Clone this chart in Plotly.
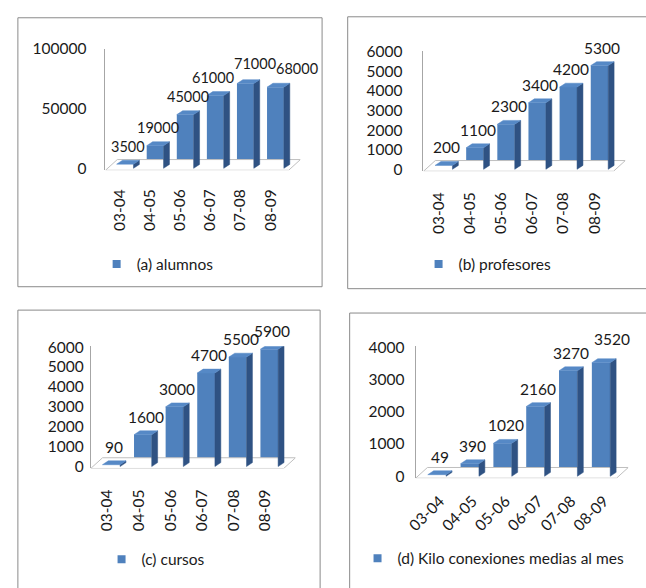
import plotly.graph_objects as go

# ---------------- data ----------------
categories = ["03-04", "04-05", "05-06", "06-07", "07-08", "08-09"]
alumnos = [3500, 19000, 45000, 61000, 71000, 68000]
profesores = [200, 1100, 2300, 3400, 4200, 5300]
cursos = [90, 1600, 3000, 4700, 5500, 5900]
conexiones = [49, 390, 1020, 2160, 3270, 3520]

series_names = ["(a) alumnos", "(b) profesores", "(c) cursos",
                "(d) Kilo conexiones medias al mes"]
yticks_a = [0, 50000, 100000]
yticks_b = [0, 1000, 2000, 3000, 4000, 5000, 6000]
yticks_c = [0, 1000, 2000, 3000, 4000, 5000, 6000]
yticks_d = [0, 1000, 2000, 3000, 4000]

# ---------------- style / layout (pixels) ----------------
W, H = 646, 588
FONT = "Lato"
FS = 15.5
FRONT = "#4F81BD"
SIDE = "#2F5283"
TOP = "#5689C6"
AXISGRAY = "#A6A6A6"
BORDER = "#8A8A8A"
TXT = "#1a1a1a"

XMIN, XMAX = -0.65, 5.83
BARW = 0.56
DEPTH_X, DEPTH_Y = 6, 4        # px
FLOOR_DX, FLOOR_BACK = 12, 9   # px

panels = [
    dict(vals=alumnos, ticks=yticks_a, xl=97, xr=295, p0=163.5, vref=100000, pref=41,
         ltop=41, border=(8, 9, 317, 285), angle=-90, xshift_px=-5, xstand=15,
         ystand=15, leg_text_x=128, leg_y=262, lab_fs=14.5,
         lab_shift={3: (-5, 0), 4: (7, 2), 5: (19, 1)}),
    dict(vals=profesores, ticks=yticks_b, xl=420, xr=625, p0=164.5, vref=6000, pref=44,
         ltop=43, border=(343, 8, 660, 287), angle=-90, xshift_px=-5, xstand=17,
         ystand=17, leg_text_x=455, leg_y=262, lab_fs=FS, lab_shift={}),
    dict(vals=cursos, ticks=yticks_c, xl=82, xr=290, p0=469.5, vref=6000, pref=347,
         ltop=346, border=(8, 309, 315, 600), angle=-90, xshift_px=-4, xstand=17,
         ystand=3, leg_text_x=133, leg_y=565, lab_fs=FS, lab_shift={}),
    dict(vals=conexiones, ticks=yticks_d, xl=412, xr=628, p0=479.5, vref=4000, pref=347,
         ltop=346, border=(345, 312, 660, 600), angle=-45, xshift_px=3, xstand=10,
         ystand=7, leg_text_x=393, leg_y=564, lab_fs=FS, lab_shift={5: (8, 6)}),
]

fig = go.Figure()
layout = dict(width=W, height=H, margin=dict(l=0, r=0, t=0, b=0),
              paper_bgcolor="white", plot_bgcolor="rgba(0,0,0,0)",
              font=dict(family=FONT, size=FS, color=TXT),
              showlegend=True, shapes=[], annotations=[])

for k, p in enumerate(panels):
    n = "" if k == 0 else str(k + 1)
    xa, ya = "x" + n, "y" + n
    legname = "legend" + n
    vals = p["vals"]
    idx = list(range(len(categories)))

    sx = (p["xr"] - p["xl"]) / (XMAX - XMIN)          # px per x unit
    sy = (p["p0"] - p["pref"]) / p["vref"]            # px per value unit
    ybot_px = p["p0"] + 2
    ymin = -(ybot_px - p["p0"]) / sy
    ymax = max((p["p0"] - p["ltop"]) / sy, p["vref"] * 1.002)
    ltop_px = p["p0"] - ymax * sy
    ddx = DEPTH_X / sx
    ddy = DEPTH_Y / sy

    # floor
    fdx = FLOOR_DX / sx
    fback = FLOOR_BACK / sy
    fig.add_trace(go.Scatter(
        x=[XMIN, XMAX - fdx, XMAX, XMIN + fdx, XMIN],
        y=[ymin, ymin, fback, fback, ymin],
        mode="lines", fill="toself", fillcolor="white",
        line=dict(color="#BFBFBF", width=1), xaxis=xa, yaxis=ya,
        showlegend=False, hoverinfo="skip"))

    # front faces
    fig.add_trace(go.Bar(x=idx, y=vals, width=BARW, marker=dict(color=FRONT, line=dict(width=0)),
                         xaxis=xa, yaxis=ya, showlegend=False, hoverinfo="skip"))
    # side and top faces
    sxs, sys_, txs, tys = [], [], [], []
    for i, v in zip(idx, vals):
        r = i + BARW / 2
        l = i - BARW / 2
        sxs += [r, r + ddx, r + ddx, r, r, None]
        sys_ += [0, ddy, v + ddy, v, 0, None]
        txs += [l, r, r + ddx, l + ddx, l, None]
        tys += [v, v, v + ddy, v + ddy, v, None]
    fig.add_trace(go.Scatter(x=sxs, y=sys_, mode="lines", fill="toself", fillcolor=SIDE,
                             line=dict(width=0.5, color=SIDE), xaxis=xa, yaxis=ya,
                             showlegend=False, hoverinfo="skip"))
    fig.add_trace(go.Scatter(x=txs, y=tys, mode="lines", fill="toself", fillcolor=TOP,
                             line=dict(width=0.5, color=TOP), xaxis=xa, yaxis=ya,
                             showlegend=False, hoverinfo="skip"))
    # legend entry
    fig.add_trace(go.Scatter(x=[None], y=[None], mode="markers", name=series_names[k],
                             marker=dict(symbol="square", size=8, color=FRONT),
                             xaxis=xa, yaxis=ya, legend=legname, showlegend=True))

    # data labels
    for i, v in zip(idx, vals):
        xs_, ys_ = p["lab_shift"].get(i, (0, 0))
        layout["annotations"].append(dict(
            x=i + ddx / 2, y=v, xref=xa, yref=ya, text=str(v), showarrow=False,
            xanchor="center", yanchor="middle", yshift=18 + ys_, xshift=xs_,
            font=dict(family=FONT, size=p["lab_fs"], color=TXT)))

    # axes
    layout["xaxis" + n] = dict(
        domain=[p["xl"] / W, p["xr"] / W], range=[XMIN, XMAX], anchor=ya,
        showgrid=False, zeroline=False, showline=False, ticks="",
        tickvals=[i + p["xshift_px"] / sx for i in idx], ticktext=categories,
        tickangle=p["angle"], ticklabelstandoff=p["xstand"],
        tickfont=dict(family=FONT, size=FS, color=TXT), fixedrange=True)
    layout["yaxis" + n] = dict(
        domain=[1 - ybot_px / H, 1 - ltop_px / H], range=[ymin, ymax], anchor=xa,
        showgrid=False, zeroline=False, showline=True, linecolor=AXISGRAY, linewidth=1,
        ticks="", tickvals=p["ticks"], ticktext=[str(t) for t in p["ticks"]],
        ticklabelstandoff=p["ystand"],
        tickfont=dict(family=FONT, size=FS, color=TXT), fixedrange=True)

    # legend
    layout[legname] = dict(x=(p["leg_text_x"] - 40) / W, y=1 - p["leg_y"] / H,
                           xanchor="left", yanchor="middle", bgcolor="rgba(0,0,0,0)",
                           font=dict(family=FONT, size=FS, color=TXT))

    # panel border
    bx0, by0, bx1, by1 = p["border"]
    layout["shapes"].append(dict(type="rect", xref="paper", yref="paper",
                                 x0=bx0 / W, x1=bx1 / W, y0=1 - by1 / H, y1=1 - by0 / H,
                                 line=dict(color=BORDER, width=1), fillcolor="rgba(0,0,0,0)",
                                 layer="below"))

fig.update_layout(**layout)
fig.write_html("out.html")
